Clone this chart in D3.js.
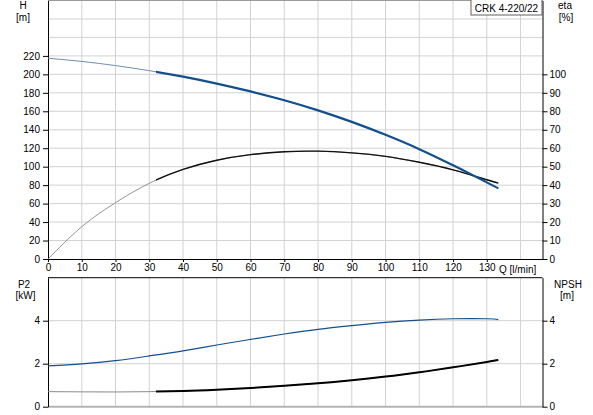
<!DOCTYPE html>
<html>
<head>
<meta charset="utf-8">
<script src="https://cdn.jsdelivr.net/npm/d3@7"></script>
<style>
    body { margin: 0; background: #fff; }
    svg { display: block; }
    text { font-family: "Liberation Sans", Arial, sans-serif; font-size: 10px; fill: #000; }
</style>
</head>
<body>
<div id="chart"></div>
<script>
// data
const flow = [0, 10, 20, 30, 40, 50, 60, 70, 80, 90, 100, 110, 120, 130, 133.4]
const head = [217.5, 214, 209.5, 204, 197.5, 190, 181.5, 172, 161, 148.5, 134.5, 119, 101.5, 83, 76.5]
const eta = [0, 17.5, 30.5, 41, 48.5, 53.5, 56.5, 58.1, 58.4, 57.5, 55.6, 52.4, 48.3, 42.9, 41.1]
const power = [1.9, 1.99, 2.14, 2.36, 2.6, 2.87, 3.13, 3.38, 3.6, 3.77, 3.92, 4.03, 4.09, 4.09, 4.05]
const npsh = [0.70, 0.69, 0.685, 0.70, 0.73, 0.79, 0.87, 0.97, 1.09, 1.23, 1.40, 1.60, 1.83, 2.08, 2.17]
const flowTicks = [0, 10, 20, 30, 40, 50, 60, 70, 80, 90, 100, 110, 120, 130]
const headTicks = [0, 20, 40, 60, 80, 100, 120, 140, 160, 180, 200, 220]
const etaTicks = [0, 10, 20, 30, 40, 50, 60, 70, 80, 90, 100]
const lowTicks = [0, 2, 4]
const dutyStart = 32
const pumpName = "CRK 4-220/22"

const blue = "#134f8c"

const width = 593, height = 415
const svg = d3.select("#chart").append("svg")
    .attr("width", width)
    .attr("height", height)

// scales
const xScale = d3.scaleLinear().domain([0, 146.5]).range([48, 542.5])
const hScale = d3.scaleLinear().domain([0, 280]).range([259, 0.5])
const etaScale = d3.scaleLinear().domain([0, 140]).range([259, 0.5])
const lowScale = d3.scaleLinear().domain([0, 6]).range([406.7, 277.7])

const rows = flow.map((q, i) => ({q: q, h: head[i], eta: eta[i], p: power[i], npsh: npsh[i]}))

// clip for the thicker duty range
svg.append("clipPath").attr("id", "duty")
    .append("rect")
    .attr("x", xScale(dutyStart)).attr("y", 0)
    .attr("width", width).attr("height", height)

function grid(yScale, yValues, top, bottom) {
    const g = svg.append("g").attr("stroke", "#d2d2d2").attr("stroke-width", 1)
    g.selectAll(".v").data(d3.range(10, 150, 10)).join("line")
        .attr("x1", d => xScale(d)).attr("x2", d => xScale(d))
        .attr("y1", top).attr("y2", bottom)
    g.selectAll(".h").data(yValues).join("line")
        .attr("x1", xScale.range()[0]).attr("x2", xScale.range()[1])
        .attr("y1", d => yScale(d)).attr("y2", d => yScale(d))
}

grid(hScale, d3.range(20, 300, 20), 0.5, 259)
grid(lowScale, [2, 4], 277.7, 406.7)

// frames
svg.append("line").attr("x1", 48).attr("x2", 542.5).attr("y1", 0.5).attr("y2", 0.5)
    .attr("stroke", "#9a9a9a")
svg.append("line").attr("x1", 48).attr("x2", 542.5).attr("y1", 406.7).attr("y2", 406.7)
    .attr("stroke", "#b4b4b4").attr("stroke-width", 2)
svg.append("line").attr("x1", 48).attr("x2", 542.5).attr("y1", 277.7).attr("y2", 277.7)
    .attr("stroke", "#000")

// axes
function styleAxis(g) {
    g.select(".domain").attr("stroke", "#000")
    g.selectAll(".tick line").attr("stroke", "#000")
    g.attr("font-family", null).attr("font-size", null)
}

const fmt = d3.format("d")
svg.append("g").attr("transform", "translate(48,0)")
    .call(d3.axisLeft(hScale).tickValues(headTicks).tickFormat(fmt).tickSize(5).tickSizeOuter(0).tickPadding(3))
    .call(styleAxis)
svg.append("g").attr("transform", "translate(542.5,0)")
    .call(d3.axisRight(etaScale).tickValues(etaTicks).tickFormat(fmt).tickSize(5).tickSizeOuter(0).tickPadding(2))
    .call(styleAxis)
svg.append("g").attr("transform", "translate(0,259)")
    .call(d3.axisBottom(xScale).tickValues(flowTicks).tickFormat(fmt).tickSize(3).tickSizeOuter(0).tickPadding(2))
    .call(styleAxis)
svg.append("g").attr("transform", "translate(48,0)")
    .call(d3.axisLeft(lowScale).tickValues(lowTicks).tickFormat(fmt).tickSize(5).tickSizeOuter(0).tickPadding(3))
    .call(styleAxis)
svg.append("g").attr("transform", "translate(542.5,0)")
    .call(d3.axisRight(lowScale).tickValues(lowTicks).tickFormat(fmt).tickSize(5).tickSizeOuter(0).tickPadding(2))
    .call(styleAxis)

// curves
function curve(yScale, key, color, thin, thick, thinColor) {
    const line = d3.line()
        .x(d => xScale(d.q))
        .y(d => yScale(d[key]))
        .curve(d3.curveNatural)
    svg.append("path").attr("d", line(rows))
        .attr("fill", "none").attr("stroke", thinColor || color).attr("stroke-width", thin)
    if (thick) {
        svg.append("path").attr("d", line(rows))
            .attr("clip-path", "url(#duty)")
            .attr("fill", "none").attr("stroke", color).attr("stroke-width", thick)
    }
}

curve(etaScale, "eta", "#111", 0.8, 1.4, "#7a7a7a")
curve(hScale, "h", blue, 1, 2.2, "#6f8fb3")
curve(lowScale, "p", blue, 1.2, 0)
curve(lowScale, "npsh", "#000", 1, 2, "#8a8a8a")

// labels
function label(x, y, txt, anchor) {
    svg.append("text").attr("x", x).attr("y", y).attr("text-anchor", anchor || "middle").text(txt)
}
label(23, 9, "H")
label(23, 21, "[m]")
label(565, 9, "eta")
label(566, 21, "[%]")
label(24, 288, "P2")
label(25.5, 299, "[kW]")
label(568, 288, "NPSH")
label(567, 299, "[m]")
label(499, 273, "Q [l/min]", "start")

// pump name box
svg.append("rect").attr("x", 471).attr("y", -1).attr("width", 71).attr("height", 16)
    .attr("fill", "#fff").attr("stroke", "#606060")
label(506.5, 11.5, pumpName)
</script>
</body>
</html>
